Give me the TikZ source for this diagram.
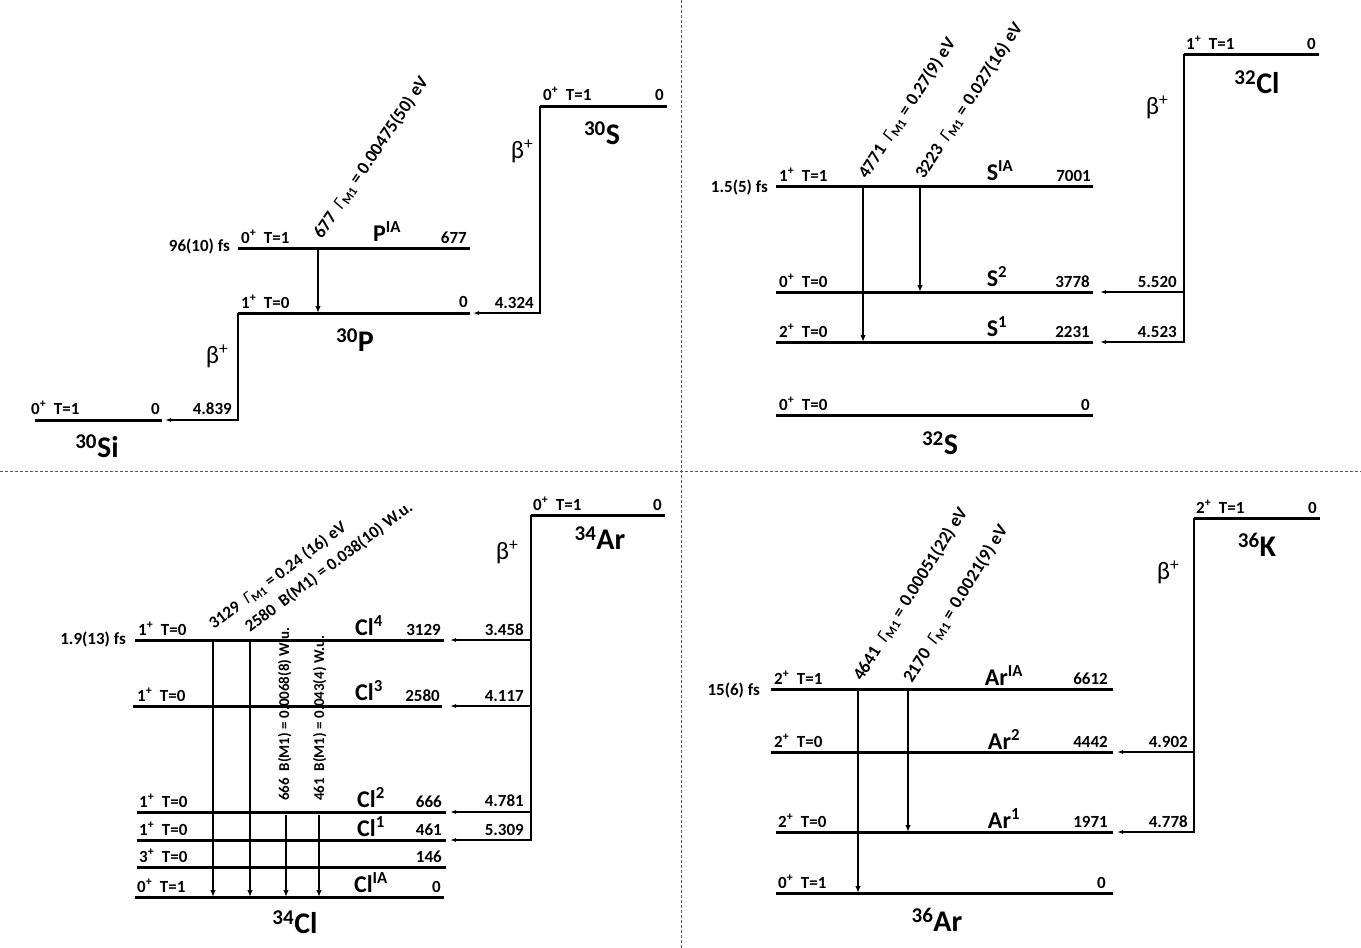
\documentclass[tikz,border=0pt]{standalone}
\usepackage{fontspec}
\setmainfont{Carlito}
\usetikzlibrary{arrows.meta}
\newcommand\GMone{{\mdseries\itshape Γ}\textsubscript{M1}}
\newcommand\spl{\textsuperscript{+}}
\begin{document}
\begin{tikzpicture}[x=1pt,y=-1pt,
  lev/.style={line width=3pt},
  dec/.style={line width=2.2pt,-{Latex[length=7pt,width=5.5pt]}},
  bet/.style={line width=1.1pt,-{Latex[length=6pt,width=4pt]}},
  betl/.style={line width=1.1pt},
  sm/.style={font=\fontsize{17}{19}\selectfont\bfseries,inner sep=0pt},
  sml/.style={sm,anchor=base west},
  smr/.style={sm,anchor=base east},
  nuc/.style={font=\fontsize{30}{32}\selectfont\bfseries,inner sep=0pt},
  lvn/.style={font=\fontsize{24}{26}\selectfont\bfseries,inner sep=0pt,yshift=2pt},
  rot/.style={font=\fontsize{18}{20}\selectfont\bfseries,inner sep=0pt,anchor=base west},
  rotb/.style={rot,font=\fontsize{17}{19}\selectfont\bfseries},
  rotc/.style={rot,font=\fontsize{15}{17}\selectfont\bfseries},
  beta/.style={font=\fontsize{25}{27}\selectfont,inner sep=0pt},
  divider/.style={line width=0.8pt,black!65,dash pattern=on 3pt off 2pt}]
\useasboundingbox (0,0) rectangle (1361,948);
% dividers
\coordinate (dT) at (681,0); \coordinate (dB) at (681,948);
\coordinate (dL) at (0,471); \coordinate (dR) at (1361,471);
\draw[divider] (dT) -- (dB);
\draw[divider] (dL) -- (dR);

% ===== Quadrant 1: A=30 =====
\coordinate (SiL) at (35,420); \coordinate (SiR) at (162,420); \coordinate (SiA) at (165,420);
\coordinate (PgL) at (238,313); \coordinate (PgR) at (470,313); \coordinate (PgA) at (473,313);
\coordinate (PiL) at (238,248); \coordinate (PiR) at (470,248);
\coordinate (SL) at (540,106); \coordinate (SR) at (667,106);
\coordinate (Pd) at (318,248);
\draw[lev] (SiL) -- (SiR);
\draw[lev] (PgL) -- (PgR);
\draw[lev] (PiL) -- (PiR);
\draw[lev] (SL) -- (SR);
\draw[bet] (PgL) |- (SiA);
\draw[bet] (SL) |- (PgA);
\draw[dec] (Pd) -- (Pd |- PgL);
\node[sml] (t1) at (31,414) {0\spl\ \ T=1};
\node[smr] (t2) at (160,414) {0};
\node[nuc] (t3) at (97,446) {\textsuperscript{30}Si};
\node[smr] (t4) at (232,414) {4.839};
\node[beta] (t5) at (217,356) {β\spl};
\node[sml] (t6) at (241,308) {1\spl\ \ T=0};
\node[smr] (t7) at (468,307) {0};
\node[nuc] (t8) at (355,340) {\textsuperscript{30}P};
\node[sml] (t9) at (241,243) {0\spl\ \ T=1};
\node[sm,anchor=east] (t10) at (230,246) {96(10) fs};
\node[lvn] (t11) at (387,234) {P\textsuperscript{IA}};
\node[smr] (t12) at (467,243) {677};
\node[rot,rotate=56] (t13) at (322,240) {677\ \ \GMone\ = 0.00475(50) eV};
\node[sml] (t14) at (543,100) {0\spl\ \ T=1};
\node[smr] (t15) at (664,100) {0};
\node[nuc] (t16) at (602,133) {\textsuperscript{30}S};
\node[smr] (t17) at (534,308) {4.324};
\node[beta] (t18) at (522,151) {β\spl};

% ===== Quadrant 2: A=32 =====
\coordinate (SaL) at (776,186); \coordinate (SaR) at (1093,186);
\coordinate (S2L) at (776,292); \coordinate (S2R) at (1093,292); \coordinate (S2A) at (1100,292);
\coordinate (S1L) at (776,342); \coordinate (S1R) at (1093,342); \coordinate (S1A) at (1100,342);
\coordinate (S0L) at (776,415); \coordinate (S0R) at (1093,415);
\coordinate (ClL) at (1184,54); \coordinate (ClR) at (1319,54);
\coordinate (Sd1) at (863,186); \coordinate (Sd2) at (920,186);
\draw[lev] (SaL) -- (SaR);
\draw[lev] (S2L) -- (S2R);
\draw[lev] (S1L) -- (S1R);
\draw[lev] (S0L) -- (S0R);
\draw[lev] (ClL) -- (ClR);
\draw[bet] (ClL) |- (S1A);
\draw[bet] (ClL |- S2A) -- (S2A);
\draw[dec] (Sd1) -- (Sd1 |- S1L);
\draw[dec] (Sd2) -- (Sd2 |- S2L);
\node[sm,anchor=east] (u1) at (768,187) {1.5(5) fs};
\node[sml] (u2) at (779,181) {1\spl\ \ T=1};
\node[lvn] (u3) at (1000,173) {S\textsuperscript{IA}};
\node[smr] (u4) at (1091,181) {7001};
\node[sml] (u5) at (779,287) {0\spl\ \ T=0};
\node[lvn] (u6) at (997,279) {S\textsuperscript{2}};
\node[smr] (u7) at (1090,287) {3778};
\node[sml] (u8) at (779,337) {2\spl\ \ T=0};
\node[lvn] (u9) at (997,329) {S\textsuperscript{1}};
\node[smr] (u10) at (1090,337) {2231};
\node[sml] (u11) at (779,410) {0\spl\ \ T=0};
\node[smr] (u12) at (1090,410) {0};
\node[nuc] (u13) at (940,443) {\textsuperscript{32}S};
\node[rot,rotate=57] (u14) at (867,180) {4771\ \ \GMone\ = 0.27(9) eV};
\node[rot,rotate=57] (u15) at (924,180) {3223\ \ \GMone\ = 0.027(16) eV};
\node[sml] (u16) at (1186,49) {1\spl\ \ T=1};
\node[smr] (u17) at (1316,49) {0};
\node[nuc] (u18) at (1257,82) {\textsuperscript{32}Cl};
\node[beta] (u19) at (1157,107) {β\spl};
\node[smr] (u20) at (1177,287) {5.520};
\node[smr] (u21) at (1177,337) {4.523};

% ===== Quadrant 3: A=34 =====
\coordinate (C4L) at (135,640); \coordinate (C4R) at (444,640); \coordinate (C4A) at (450,640);
\coordinate (C3L) at (133,706); \coordinate (C3R) at (442,706); \coordinate (C3A) at (450,706);
\coordinate (C2L) at (137,812); \coordinate (C2R) at (446,812); \coordinate (C2A) at (450,812);
\coordinate (C1L) at (137,840); \coordinate (C1R) at (446,840); \coordinate (C1A) at (450,840);
\coordinate (C5L) at (137,867); \coordinate (C5R) at (446,867);
\coordinate (C0L) at (135,897); \coordinate (C0R) at (444,897);
\coordinate (ArL) at (531,515); \coordinate (ArR) at (665,515);
\coordinate (Cd1) at (213,640); \coordinate (Cd2) at (250,640);
\coordinate (Cd3) at (286,815); \coordinate (Cd4) at (319,815);
\draw[lev] (C4L) -- (C4R);
\draw[lev] (C3L) -- (C3R);
\draw[lev] (C2L) -- (C2R);
\draw[lev] (C1L) -- (C1R);
\draw[lev] (C5L) -- (C5R);
\draw[lev] (C0L) -- (C0R);
\draw[lev] (ArL) -- (ArR);
\draw[bet] (ArL) |- (C1A);
\draw[bet] (ArL |- C4A) -- (C4A);
\draw[bet] (ArL |- C3A) -- (C3A);
\draw[bet] (ArL |- C2A) -- (C2A);
\draw[dec] (Cd1) -- (Cd1 |- C0L);
\draw[dec] (Cd2) -- (Cd2 |- C0L);
\draw[dec] (Cd3) -- (Cd3 |- C0L);
\draw[dec] (Cd4) -- (Cd4 |- C0L);
\node[sm,anchor=east] (v1) at (126,639) {1.9(13) fs};
\node[sml] (v2) at (138,635) {1\spl\ \ T=0};
\node[sml] (v3) at (137,701) {1\spl\ \ T=0};
\node[sml] (v4) at (139,807) {1\spl\ \ T=0};
\node[sml] (v5) at (139,835) {1\spl\ \ T=0};
\node[sml] (v6) at (139,862) {3\spl\ \ T=0};
\node[sml] (v7) at (137,892) {0\spl\ \ T=1};
\node[lvn] (v8) at (369,628) {Cl\textsuperscript{4}};
\node[lvn] (v9) at (369,693) {Cl\textsuperscript{3}};
\node[lvn] (v10) at (371,800) {Cl\textsuperscript{2}};
\node[lvn] (v11) at (371,829) {Cl\textsuperscript{1}};
\node[lvn] (v12) at (371,885) {Cl\textsuperscript{IA}};
\node[smr] (v13) at (441,635) {3129};
\node[smr] (v14) at (440,701) {2580};
\node[smr] (v15) at (442,807) {666};
\node[smr] (v16) at (442,835) {461};
\node[smr] (v17) at (442,862) {146};
\node[smr] (v18) at (441,892) {0};
\node[nuc] (v19) at (295,922) {\textsuperscript{34}Cl};
\node[rotb,rotate=37] (v20) at (214,630) {3129\ \ \GMone\ = 0.24 (16) eV};
\node[rotb,rotate=37] (v21) at (250,633) {2580\ \ B(M1) = 0.038(10) W.u.};
\node[rotc,rotate=90] (v22) at (289,801) {666\ \ B(M1) = 0.0068(8) W.u.};
\node[rotc,rotate=90] (v23) at (324,801) {461\ \ B(M1) = 0.043(4) W.u.};
\node[sml] (v24) at (533,510) {0\spl\ \ T=1};
\node[smr] (v25) at (662,510) {0};
\node[nuc] (v26) at (600,538) {\textsuperscript{34}Ar};
\node[beta] (v27) at (507,552) {β\spl};
\node[smr] (v28) at (524,635) {3.458};
\node[smr] (v29) at (524,701) {4.117};
\node[smr] (v30) at (524,806) {4.781};
\node[smr] (v31) at (524,835) {5.309};

% ===== Quadrant 4: A=36 =====
\coordinate (AaL) at (771,689); \coordinate (AaR) at (1113,689);
\coordinate (A2L) at (771,752); \coordinate (A2R) at (1113,752); \coordinate (A2A) at (1117,752);
\coordinate (A1L) at (776,832); \coordinate (A1R) at (1113,832); \coordinate (A1A) at (1117,832);
\coordinate (A0L) at (776,893); \coordinate (A0R) at (1113,893);
\coordinate (KL) at (1194,518); \coordinate (KR) at (1320,518);
\coordinate (Ad1) at (858,689); \coordinate (Ad2) at (908,689);
\draw[lev] (AaL) -- (AaR);
\draw[lev] (A2L) -- (A2R);
\draw[lev] (A1L) -- (A1R);
\draw[lev] (A0L) -- (A0R);
\draw[lev] (KL) -- (KR);
\draw[bet] (KL) |- (A1A);
\draw[bet] (KL |- A2A) -- (A2A);
\draw[dec] (Ad1) -- (Ad1 |- A0L);
\draw[dec] (Ad2) -- (Ad2 |- A1L);
\node[sm,anchor=east] (w1) at (760,690) {15(6) fs};
\node[sml] (w2) at (774,684) {2\spl\ \ T=1};
\node[lvn] (w3) at (1004,678) {Ar\textsuperscript{IA}};
\node[smr] (w4) at (1108,684) {6612};
\node[sml] (w5) at (774,747) {2\spl\ \ T=0};
\node[lvn] (w6) at (1004,741) {Ar\textsuperscript{2}};
\node[smr] (w7) at (1108,747) {4442};
\node[sml] (w8) at (778,827) {2\spl\ \ T=0};
\node[lvn] (w9) at (1004,821) {Ar\textsuperscript{1}};
\node[smr] (w10) at (1108,827) {1971};
\node[sml] (w11) at (778,888) {0\spl\ \ T=1};
\node[smr] (w12) at (1106,888) {0};
\node[nuc] (w13) at (937,920) {\textsuperscript{36}Ar};
\node[rot,rotate=58] (w14) at (862,682) {4641\ \ \GMone\ = 0.00051(22) eV};
\node[rot,rotate=58] (w15) at (912,684) {2170\ \ \GMone\ = 0.0021(9) eV};
\node[sml] (w16) at (1196,513) {2\spl\ \ T=1};
\node[smr] (w17) at (1317,513) {0};
\node[nuc] (w18) at (1257,545) {\textsuperscript{36}K};
\node[beta] (w19) at (1168,572) {β\spl};
\node[smr] (w20) at (1188,747) {4.902};
\node[smr] (w21) at (1188,827) {4.778};
\end{tikzpicture}
\end{document}
